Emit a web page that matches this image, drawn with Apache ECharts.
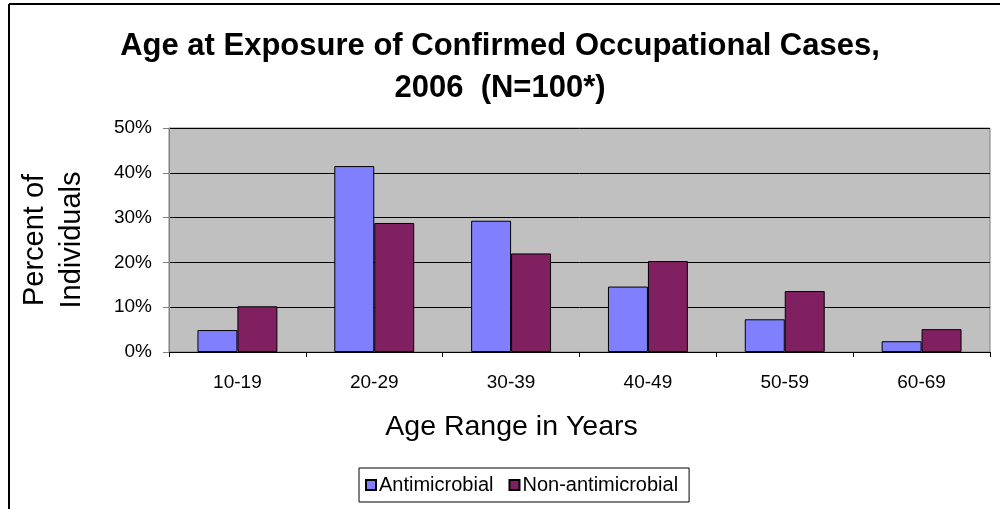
<!DOCTYPE html>
<html><head><meta charset="utf-8">
<script src="https://cdn.jsdelivr.net/npm/echarts@6/dist/echarts.min.js"></script>
<style>html,body{margin:0;padding:0;background:#fff}#c{width:1000px;height:509px}</style>
</head><body><div id="c"></div>
<script>
const categories = ['10-19','20-29','30-39','40-49','50-59','60-69'];
const antimicrobial = [4.9, 41.5, 29.3, 14.6, 7.3, 2.4];
const nonAntimicrobial = [10.2, 28.8, 22.0, 20.3, 13.6, 5.1];
const seriesNames = ['Antimicrobial','Non-antimicrobial'];
const FONT = '"Liberation Sans", Arial, sans-serif';
const chart = echarts.init(document.getElementById('c'), null, {renderer:'canvas'});
chart.setOption({
  animation:false,
  backgroundColor:'#fff',
  title:{text:'Age at Exposure of Confirmed Occupational Cases,\n2006  (N=100*)', left:'center', top:20,
    textStyle:{fontFamily:FONT, fontSize:31, fontWeight:'bold', color:'#000', lineHeight:42}},
  grid:{left:169, right:10, top:128, bottom:157, show:true, backgroundColor:'#C0C0C0', borderColor:'#808080', borderWidth:1},
  legend:{data:seriesNames, left:359, top:468, orient:'horizontal', borderColor:'#000', borderWidth:1, padding:[7,11,7,6],
    itemWidth:10, itemHeight:10, itemGap:15, icon:'rect',
    textStyle:{fontFamily:FONT, fontSize:20, color:'#000', padding:[0,0,0,-2]}},
  xAxis:{type:'category', data:categories,
    axisLine:{lineStyle:{color:'#000', width:1}}, axisTick:{show:true, length:5, lineStyle:{color:'#000'}},
    axisLabel:{fontFamily:FONT, fontSize:19, color:'#000', margin:21},
    name:'Age Range in Years', nameLocation:'middle', nameGap:61,
    nameTextStyle:{fontFamily:FONT, fontSize:28.5, color:'#000', padding:[0,136,0,0]}},
  yAxis:{type:'value', min:0, max:50, interval:10,
    axisLine:{show:true, lineStyle:{color:'#808080'}}, axisTick:{show:true, length:6, lineStyle:{color:'#808080'}},
    splitLine:{lineStyle:{color:'#000', width:1}},
    axisLabel:{formatter:'{value}%', fontFamily:FONT, fontSize:19, color:'#000', margin:17},
    name:'Percent of\nIndividuals', nameLocation:'middle', nameGap:79, nameRotate:90,
    nameTextStyle:{fontFamily:FONT, fontSize:29, color:'#000', lineHeight:37}},
  series:[
    {name:seriesNames[0], type:'bar', data:antimicrobial, barGap:'0%', barCategoryGap:'41.6%',
     itemStyle:{color:'#8080FF', borderColor:'#000', borderWidth:1}},
    {name:seriesNames[1], type:'bar', data:nonAntimicrobial,
     itemStyle:{color:'#802060', borderColor:'#000', borderWidth:1}}
  ],
  graphic:[
    {type:'line', shape:{x1:9,y1:4,x2:1000,y2:4}, style:{stroke:'#000', lineWidth:2}},
    {type:'line', shape:{x1:9,y1:4,x2:9,y2:509}, style:{stroke:'#000', lineWidth:2}}
  ]
});
</script></body></html>
